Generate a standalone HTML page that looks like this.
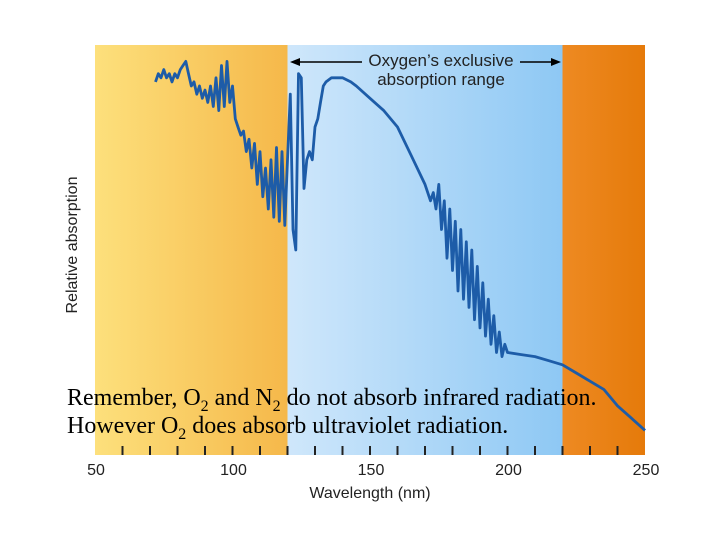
<!DOCTYPE html>
<html><head><meta charset="utf-8"><style>
body{margin:0;background:#fff;width:720px;height:540px;overflow:hidden}
svg{display:block}
</style></head><body>
<svg id="chart" width="720" height="540" font-family="Liberation Sans, sans-serif">
<defs>
<linearGradient id="gy" x1="0" x2="1"><stop offset="0" stop-color="#fde07c"/><stop offset="1" stop-color="#f5b84a"/></linearGradient>
<linearGradient id="gb" x1="0" x2="1"><stop offset="0" stop-color="#cfe7fb"/><stop offset="1" stop-color="#8ec8f4"/></linearGradient>
<linearGradient id="go" x1="0" x2="1"><stop offset="0" stop-color="#ee8a22"/><stop offset="1" stop-color="#e57a0a"/></linearGradient>
</defs>
<g id="bg"></g>
<g id="ticks"></g>
<path id="line" fill="none" stroke="#1d5ca8" stroke-width="2.8" stroke-linejoin="round"/>
<g>
<line x1="296" y1="62" x2="362" y2="62" stroke="#000" stroke-width="1.5"/>
<polygon points="290,62 300,58 300,66" fill="#000"/>
<line x1="520" y1="62" x2="553" y2="62" stroke="#000" stroke-width="1.5"/>
<polygon points="561,62 551,58 551,66" fill="#000"/>
<text x="441" y="66" text-anchor="middle" font-size="17" fill="#222">Oxygen’s exclusive</text>
<text x="441" y="85" text-anchor="middle" font-size="17" fill="#222">absorption range</text>
</g>
<text x="77" y="245" transform="rotate(-90 77 245)" text-anchor="middle" font-size="16" fill="#222">Relative absorption</text>
<text x="370" y="498" text-anchor="middle" font-size="16" fill="#222">Wavelength (nm)</text>
<g font-family="Liberation Serif, serif" font-size="24" fill="#000">
<text x="67" y="405">Remember, O<tspan dy="6" font-size="16">2</tspan><tspan dy="-6"> and N</tspan><tspan dy="6" font-size="16">2</tspan><tspan dy="-6"> do not absorb infrared radiation.</tspan></text>
<text x="67" y="433">However O<tspan dy="6" font-size="16">2</tspan><tspan dy="-6"> does absorb ultraviolet radiation.</tspan></text>
</g>
</svg>
<script>
const wavelengths=[72,73,74,75,76,77,78,79,80,81,82,83,84,85,86,87,88,89,90,91,92,93,94,95,96,97,98,99,100,101,102,103,104,105,106,107,108,109,110,111,112,113,114,115,116,117,118,119,120,121,122,123,124,125,126,127,128,129,130,131,132,133,134,136,140,143,145,150,155,160,165,170,172,173,174,175,176,177,178,179,180,181,182,183,184,185,186,187,188,189,190,191,192,193,194,195,196,197,198,199,200,205,210,215,220,225,230,235,240,245,250];
const absorption=[91,93,92,94,92,93,91,93,92,94,95,96,93,90,91,88,90,87,89,86,90,85,92,84,95,85,96,86,90,82,80,78,79,74,77,70,76,66,74,63,70,60,72,58,75,57,74,56,72,88,55,50,93,92,65,72,74,72,80,82,86,90,91,92,92,91,90,87,84,80,73,66,62,64,60,66,55,62,48,60,45,57,40,55,38,52,36,50,33,46,31,42,29,38,27,34,25,30,24,27,25,24.5,24,23,22,20,18,16,12,9,6];
const xTicks=[50,100,150,200,250];
const minorTicks=[60,70,80,90,100,110,120,130,140,150,160,170,180,190,200,210,220,230,240];
const regions=[[50,120,'url(#gy)','infrared-band'],[120,220,'url(#gb)','oxygen-band'],[220,250,'url(#go)','ultraviolet-band']];
const X=v=>95+(v-50)*(645-95)/200;
const Y=v=>455-v*4.1;
const NS='http://www.w3.org/2000/svg';
const bg=document.getElementById('bg');
regions.forEach(r=>{const e=document.createElementNS(NS,'rect');
e.setAttribute('x',X(r[0]));e.setAttribute('y',45);e.setAttribute('width',X(r[1])-X(r[0]));e.setAttribute('height',410);e.setAttribute('fill',r[2]);


bg.appendChild(e);});
const tg=document.getElementById('ticks');
minorTicks.forEach(t=>{const l=document.createElementNS(NS,'line');
l.setAttribute('x1',X(t));l.setAttribute('x2',X(t));l.setAttribute('y1',446);l.setAttribute('y2',455);l.setAttribute('stroke','#222');l.setAttribute('stroke-width','2');


tg.appendChild(l);});
xTicks.forEach(t=>{const s=document.createElementNS(NS,'text');
s.setAttribute('x',X(t)+1);s.setAttribute('y',475);s.setAttribute('text-anchor','middle');s.setAttribute('font-size','16');s.setAttribute('fill','#222');s.textContent=t;


tg.appendChild(s);});
document.getElementById('line').setAttribute('d',wavelengths.map((w,i)=>(i?'L':'M')+X(w).toFixed(1)+','+Y(absorption[i]).toFixed(1)).join(''));
</script>
</body></html>
